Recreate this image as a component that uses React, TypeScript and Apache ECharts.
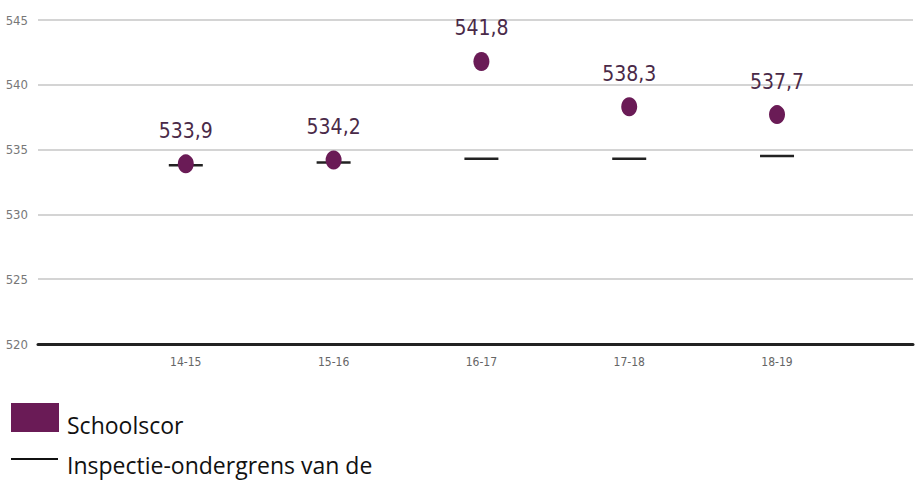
import React, { useEffect, useRef } from "react";
import * as echarts from "echarts";

const categories = ["14-15", "15-16", "16-17", "17-18", "18-19"];
const schoolScores = [533.9, 534.2, 541.8, 538.3, 537.7];
const lowerLimits = [533.8, 534.0, 534.3, 534.3, 534.5];
const yTicks = { min: 520, max: 545, step: 5 };
const legendLabels = ["Schoolscor", "Inspectie-ondergrens van de"];

const PURPLE = "#6a1b56";

export default function App() {
  const ref = useRef<HTMLDivElement>(null);
  useEffect(() => {
    if (!ref.current) return;
    const chart = echarts.init(ref.current, null, { renderer: "svg" });
    const labelFont = "'Liberation Sans Narrow', 'DejaVu Sans Condensed', sans-serif";
    chart.setOption({
      animation: false,
      backgroundColor: "#ffffff",
      grid: { left: 38, right: 0, top: 20, bottom: 140 },
      xAxis: {
        type: "value",
        min: 0,
        max: 5.92,
        interval: 1,
        splitLine: { show: false },
        axisTick: { show: false },
        axisLine: { show: true, lineStyle: { color: "#222", width: 3 } },
        axisLabel: {
          color: "#666",
          fontSize: 12,
          fontFamily: labelFont,
          margin: 12,
          formatter: (v: number) =>
            Number.isInteger(v) && v >= 1 && v <= categories.length ? categories[v - 1] : "",
        },
      },
      yAxis: {
        type: "value",
        min: yTicks.min,
        max: yTicks.max,
        interval: yTicks.step,
        axisLine: { show: false },
        axisTick: { show: false },
        splitLine: { lineStyle: { color: "#d4d4d4", width: 2 } },
        axisLabel: { color: "#777", fontSize: 13, fontFamily: labelFont, margin: 10 },
      },
      series: [
        {
          name: legendLabels[1],
          type: "scatter",
          symbol: "rect",
          symbolSize: [34, 2.5],
          itemStyle: { color: "#222", opacity: 1 },
          data: lowerLimits.map((v, i) => [i + 1, v]),
          z: 2,
        },
        {
          name: legendLabels[0],
          type: "scatter",
          symbol: "circle",
          symbolSize: [16, 19],
          itemStyle: { color: PURPLE, opacity: 1 },
          data: schoolScores.map((v, i) => [i + 1, v]),
          z: 3,
          label: {
            show: true,
            position: "top",
            distance: 13,
            color: "#4a2a48",
            fontSize: 21,
            fontFamily: labelFont,
            formatter: (p: any) => p.value[1].toFixed(1).replace(".", ","),
          },
        },
      ],
      graphic: [
        { type: "rect", shape: { x: 11, y: 403, width: 48, height: 29 }, style: { fill: PURPLE } },
        { type: "text", x: 67, y: 425, style: { text: legendLabels[0], fill: "#111", fontSize: 23, fontFamily: "'Open Sans', sans-serif", verticalAlign: "middle" } },
        { type: "line", shape: { x1: 11, y1: 459, x2: 58, y2: 459 }, style: { stroke: "#111", lineWidth: 2 } },
        { type: "text", x: 67, y: 465, style: { text: legendLabels[1], fill: "#111", fontSize: 23, fontFamily: "'Open Sans', sans-serif", verticalAlign: "middle" } },
      ],
    });
    return () => chart.dispose();
  }, []);
  return (
    <div
      ref={ref}
      style={{ position: "absolute", left: 0, top: 0, width: 916, height: 484 }}
    />
  );
}
